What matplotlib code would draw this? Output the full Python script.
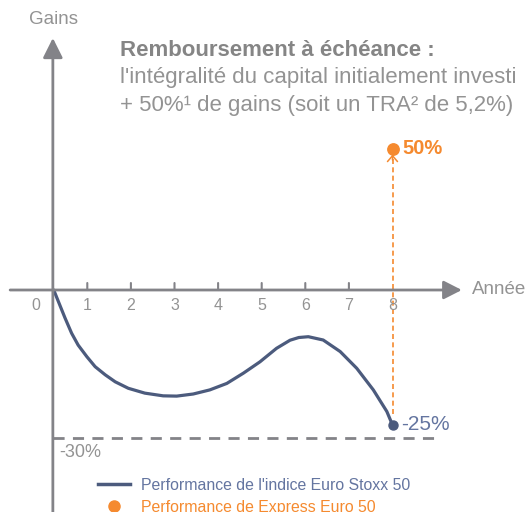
import numpy as np
import matplotlib.pyplot as plt
from matplotlib.lines import Line2D

# schematic path of the Euro Stoxx 50 (years, performance in %)
years = [0.23, 0.37, 0.49, 0.64, 0.79, 0.99, 1.18, 1.41, 1.64, 1.94, 2.32, 2.74,
         3.05, 3.43, 3.81, 4.20, 4.58, 4.96, 5.34, 5.65, 5.85, 6.07, 6.41, 6.80,
         7.18, 7.56, 7.87, 8.0]
index_perf = [0, -2.8, -5.2, -8.0, -10.2, -12.35, -14.2, -15.7, -17.0, -18.2, -19.1, -19.6,
              -19.65, -19.26, -18.5, -17.3, -15.4, -13.3, -10.8, -9.3, -8.8, -8.65, -9.26, -11.4,
              -14.5, -18.5, -22.5, -25]

final_year = 8
express_gain = 50
index_final = -25
barrier = -30
year_ticks = [1, 2, 3, 4, 5, 6, 7, 8]

blue = "#4c5b7d"
orange = "#f58a2f"
grey = "#838388"
txt = "#939393"

W, H = 526, 512
plt.rcParams["font.family"] = ["Liberation Sans", "DejaVu Sans"]
fig = plt.figure(figsize=(W / 100, H / 100), dpi=100)
ax = fig.add_axes([0, 0, 1, 1])
ax.axis("off")

# the picture is not drawn to scale: gains and losses use different steps
val_pts = [-100, -30, -25, 0, 50, 150]
pix_pts = [-400, -147.7, -135, 0, 141, 420]
fwd = lambda v: np.interp(v, val_pts, pix_pts)
inv = lambda p: np.interp(p, pix_pts, val_pts)
ax.set_yscale("function", functions=(fwd, inv))
ax.set_xlim(-43.7 / 43.6, (W - 43.7) / 43.6)
ax.set_ylim(inv(-(H - 290)), inv(290))

# axes with arrow heads
ax.annotate("", xy=(9.59, 0), xytext=(-0.77, 0),
            arrowprops=dict(arrowstyle="-|>,head_length=0.55,head_width=0.28",
                            mutation_scale=20, color=grey, lw=2, shrinkA=0, shrinkB=0))
ax.annotate("", xy=(0.21, 1 - 38 / H), xytext=(0.21, 0),
            xycoords=("data", "figure fraction"), textcoords=("data", "figure fraction"),
            arrowprops=dict(arrowstyle="-|>,head_length=0.6,head_width=0.3",
                            mutation_scale=20, color=grey, lw=2, shrinkA=0, shrinkB=0))
for t in year_ticks[:-1]:
    ax.annotate("", xy=(t, 0), xytext=(0, 7), textcoords="offset pixels",
                arrowprops=dict(arrowstyle="-", color=grey, lw=1.5, shrinkA=0, shrinkB=0))
for t in [0] + year_ticks:
    ax.annotate(str(t), xy=(t if t else -0.18, 0), xytext=(0, -15), textcoords="offset pixels",
                ha="center", va="center", fontsize=11.5, color=txt)
ax.annotate("Année", xy=(9.59, 0), xytext=(10, 0), textcoords="offset pixels",
            ha="left", va="center", fontsize=13.5, color=txt)
fig.text(54 / W, 1 - 20 / H, "Gains", ha="center", va="center", fontsize=13.5, color=txt)

# barrier
ax.plot([0.21, 8.95], [barrier, barrier], color=grey, lw=2, linestyle=(0, (4, 3)))
ax.annotate(f"{barrier}%", xy=(0.21, barrier), xytext=(6, -15), textcoords="offset pixels",
            ha="left", va="center", fontsize=13, color=txt)

# index path
ax.plot(years, index_perf, color=blue, lw=2.3, solid_capstyle="round", solid_joinstyle="round")
ax.plot([final_year], [index_final], "o", color=blue, ms=6.5)
ax.annotate(f"{index_final}%", xy=(final_year, index_final), xytext=(9, 0),
            textcoords="offset pixels", ha="left", va="center", fontsize=15, color="#6475a0")

# Express Euro 50 payoff
ax.plot([final_year, final_year], [index_final + 2, express_gain], color=orange, lw=1.2,
        linestyle=(0, (3, 2)))
ax.annotate("", xy=(final_year, express_gain), xytext=(0, -11), textcoords="offset pixels",
            arrowprops=dict(arrowstyle="->,head_length=0.35,head_width=0.3", mutation_scale=12,
                            color=orange, lw=1.1, shrinkA=0, shrinkB=4))
ax.plot([final_year], [express_gain], "o", color=orange, ms=8.2)
ax.annotate(f"{express_gain}%", xy=(final_year, express_gain), xytext=(10, 1),
            textcoords="offset pixels", ha="left", va="center", fontsize=14.5,
            fontweight="bold", color=orange)

# title block
fig.text(120 / W, 1 - 50 / H, "Remboursement à échéance :", ha="left", va="center",
         fontsize=16, fontweight="bold", color="#858585")
fig.text(120 / W, 1 - 78 / H, "l'intégralité du capital initialement investi", ha="left",
         va="center", fontsize=16, color=txt)
fig.text(120 / W, 1 - 106 / H, "+ 50%¹ de gains (soit un TRA² de 5,2%)", ha="left",
         va="center", fontsize=16, color=txt)

# legend
handles = [Line2D([], [], color=blue, lw=2.5),
           Line2D([], [], color=orange, marker="o", ms=8, lw=0)]
labels = ["Performance de l'indice Euro Stoxx 50", "Performance de Express Euro 50"]
fig.legend(handles, labels, loc="upper left", bbox_to_anchor=(90 / W, 1 - 470 / H),
           frameon=False, fontsize=11.4, labelcolor=["#6475a0", orange],
           handlelength=2.0, handletextpad=0.75, labelspacing=0.45, borderpad=0)

fig.savefig("out.png", dpi=100)
